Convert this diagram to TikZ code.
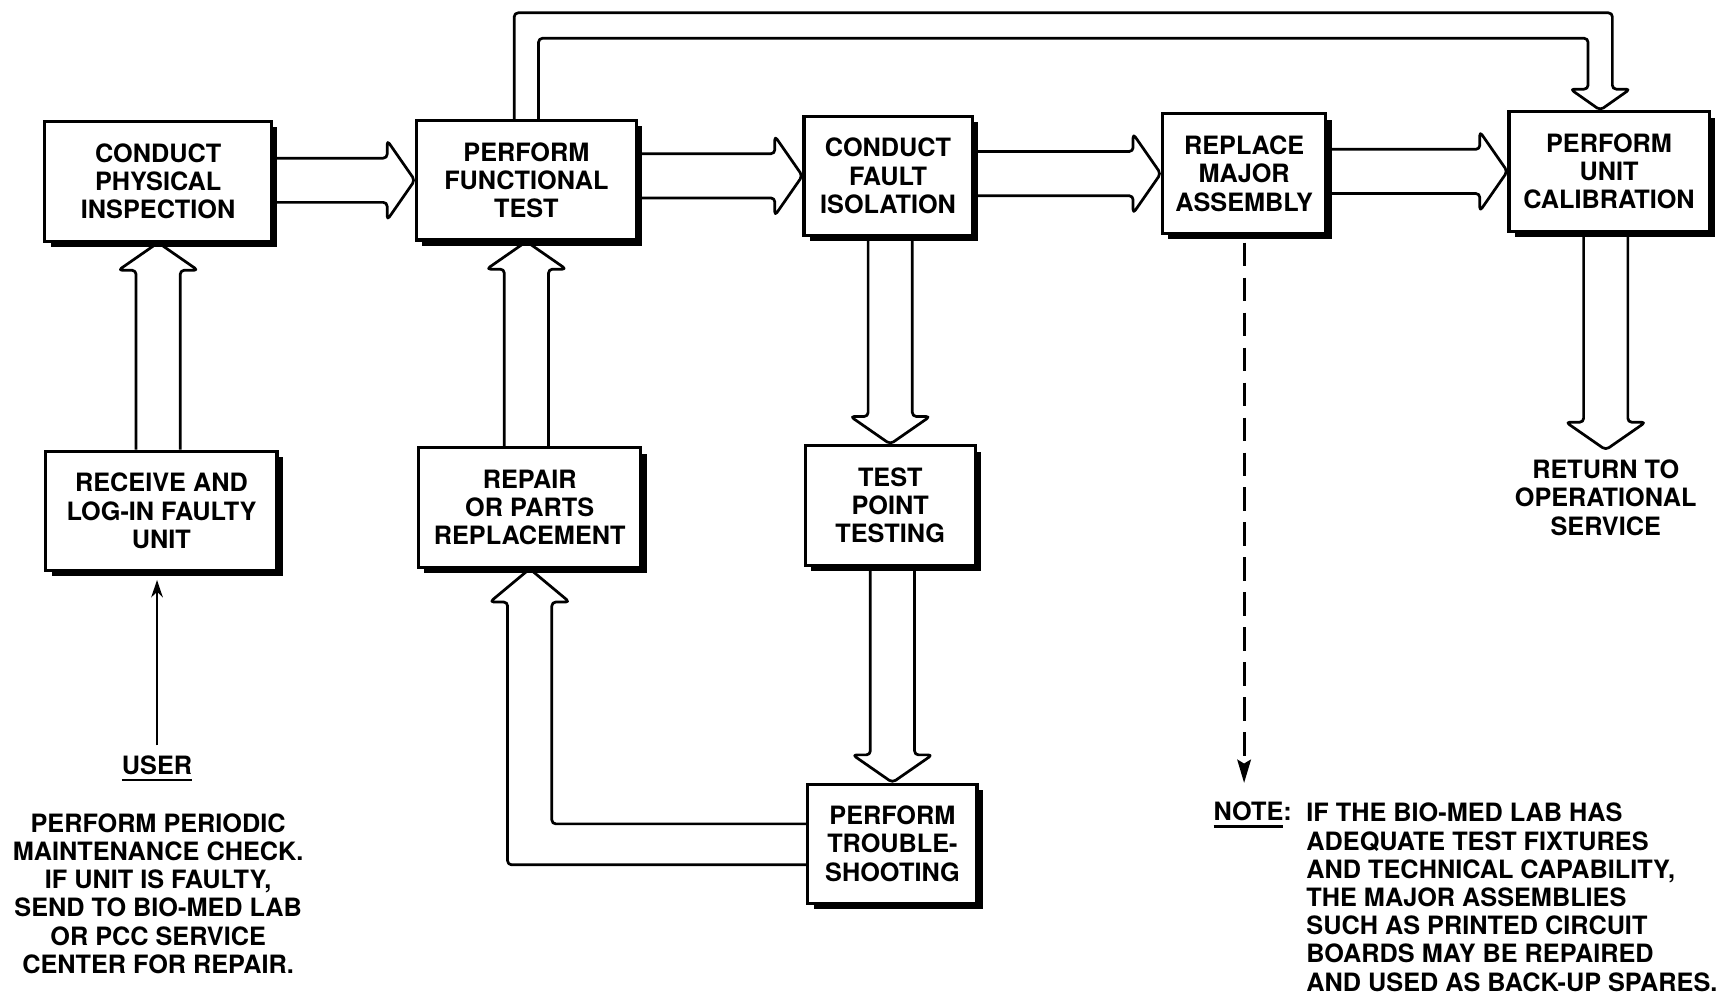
\documentclass[tikz,border=0pt]{standalone}
\usepackage{fontspec}
\setmainfont{TeX Gyre Heros}
\usepackage{tikz}
\usetikzlibrary{arrows.meta,calc,shadows}
\newcommand{\shaftw}{20}
\newcommand{\headw}{36}
\newcommand{\headl}{25}
\newcommand{\thickul}[1]{\vtop{\hbox{#1}\kern2.2pt\hrule height 1.4pt}}
\newcommand{\arrowright}[2]{%
  \draw[blockarrow] ($(#1.east |- #2.west)+(0,-\shaftw)$)
    -- ($(#2.west)+(-\headl,-\shaftw)$) -- ($(#2.west)+(-\headl,-\headw)$)
    -- (#2.west)
    -- ($(#2.west)+(-\headl,\headw)$) -- ($(#2.west)+(-\headl,\shaftw)$)
    -- ($(#1.east |- #2.west)+(0,\shaftw)$);}
\newcommand{\arrowdown}[2]{%
  \draw[blockarrow] ($(#1.south -| #2.north)+(-\shaftw,0)$)
    -- ($(#2.north)+(-\shaftw,-\headl)$) -- ($(#2.north)+(-\headw,-\headl)$)
    -- (#2.north)
    -- ($(#2.north)+(\headw,-\headl)$) -- ($(#2.north)+(\shaftw,-\headl)$)
    -- ($(#1.south -| #2.north)+(\shaftw,0)$);}
\newcommand{\arrowup}[2]{%
  \draw[blockarrow] ($(#1.north -| #2.south)+(-\shaftw,0)$)
    -- ($(#2.south)+(-\shaftw,\headl)$) -- ($(#2.south)+(-\headw,\headl)$)
    -- (#2.south)
    -- ($(#2.south)+(\headw,\headl)$) -- ($(#2.south)+(\shaftw,\headl)$)
    -- ($(#1.north -| #2.south)+(\shaftw,0)$);}

\begin{document}
\begin{tikzpicture}[x=0.02cm, y=-0.02cm,
  stepbox/.style={draw, fill=white, line width=1.6pt, align=center,
    minimum height=2.16cm, inner sep=2pt,
    font=\bfseries\fontsize{13}{14.5}\selectfont,
    drop shadow={shadow xshift=3pt, shadow yshift=-3pt, opacity=1, fill=black}},
  txt/.style={inner sep=0pt, font=\bfseries\fontsize{13}{14.5}\selectfont},
  blockarrow/.style={line width=1.4pt, rounded corners=2pt, line join=round},
  dasharrow/.style={line width=1.5pt, dash pattern=on 12pt off 6pt,
    -{Stealth[length=12pt,width=7pt,inset=2pt]}},
  userarrow/.style={line width=1.1pt, -{Stealth[length=9pt,width=6pt]}}]

\useasboundingbox (0,0) rectangle (1568,900);

\node (insp) at (143,164) [stepbox, minimum width=4.1cm] {CONDUCT\\PHYSICAL\\INSPECTION};
\node (func) at (476,163) [stepbox, minimum width=3.98cm] {PERFORM\\FUNCTIONAL\\TEST};
\node (fault) at (803,159) [stepbox, minimum width=3.04cm] {CONDUCT\\FAULT\\ISOLATION};
\node (repl) at (1125,157) [stepbox, minimum width=2.96cm] {REPLACE\\MAJOR\\ASSEMBLY};
\node (calib) at (1455,155) [stepbox, minimum width=3.62cm] {PERFORM\\UNIT\\CALIBRATION};
\node (recv) at (146,462) [stepbox, minimum width=4.18cm] {RECEIVE AND\\LOG-IN FAULTY\\UNIT};
\node (rep) at (479,459) [stepbox, minimum width=4.02cm] {REPAIR\\OR PARTS\\REPLACEMENT};
\node (tpt) at (805,457) [stepbox, minimum width=3.08cm] {TEST\\POINT\\TESTING};
\node (trb) at (807,763) [stepbox, minimum width=3.06cm] {PERFORM\\TROUBLE-\\SHOOTING};

\node (ret) at (1452,450) [txt, inner sep=5pt, align=center] {RETURN TO\\OPERATIONAL\\SERVICE};
\node (user) at (142,700) [txt, anchor=base] {\thickul{USER}};
\node (userinfo) at (143,808) [txt, align=center] {PERFORM PERIODIC\\MAINTENANCE CHECK.\\IF UNIT IS FAULTY,\\SEND TO BIO-MED LAB\\OR PCC SERVICE\\CENTER FOR REPAIR.};
\node (note) at (1181,726) [txt, anchor=north west, align=left] {IF THE BIO-MED LAB HAS\\ADEQUATE TEST FIXTURES\\AND TECHNICAL CAPABILITY,\\THE MAJOR ASSEMBLIES\\SUCH AS PRINTED CIRCUIT\\BOARDS MAY BE REPAIRED\\AND USED AS BACK-UP SPARES.};
\node (notelbl) at (1097,742) [txt, anchor=base west] {\thickul{NOTE}:};
\coordinate (noteptr) at (1125,708);

\arrowright{insp}{func}
\arrowright{func}{fault}
\arrowright{fault}{repl}
\arrowright{repl}{calib}
\arrowup{recv}{insp}
\arrowup{rep}{func}
\arrowdown{fault}{tpt}
\arrowdown{tpt}{trb}
\arrowdown{calib}{ret}

% functional test straight on to calibration
\draw[blockarrow] ($(func.north)+(-11,0)$) -- ++(0,-96) -| ($(calib.north)+(3,-19)$)
  -- ++(16,0) -- ($(calib.north)+(-8,0)$) -- ++(-27,-19) -- ++(16,0)
  |- ($(func.north)+(11,-73)$) -- ($(func.north)+(11,0)$);

% troubleshooting back to repair
\draw[blockarrow] ($(trb.west)+(0,19)$) -| ($(rep.south)+(-\shaftw,30)$)
  -- ($(rep.south)+(-\headw,30)$) -- (rep.south) -- ($(rep.south)+(\headw,30)$)
  -- ($(rep.south)+(\shaftw,30)$) |- ($(trb.west)+(0,-18)$);

\draw[dasharrow, shorten <=4pt] (repl) -- (noteptr);
\draw[userarrow, shorten <=5pt, shorten >=4pt] (user.north) -- (user.north |- recv.south);

\end{tikzpicture}
\end{document}
